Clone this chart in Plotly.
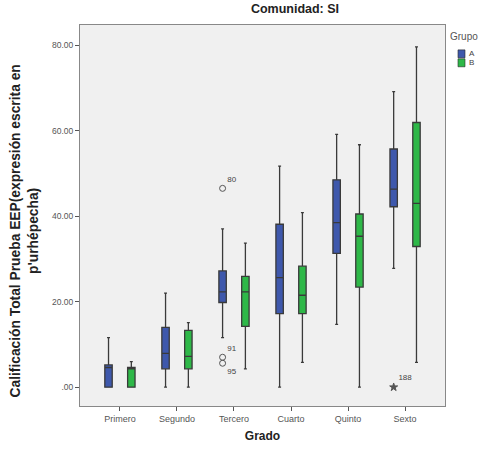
import plotly.graph_objects as go

grades = ["Primero", "Segundo", "Tercero", "Cuarto", "Quinto", "Sexto"]

# Group A statistics
a_low = [0.0, 0.0, 11.6, 0.0, 14.7, 27.8]
a_q1 = [0.0, 4.3, 19.8, 17.2, 31.3, 42.2]
a_med = [4.6, 7.9, 22.3, 25.6, 38.5, 46.3]
a_q3 = [5.2, 14.0, 27.2, 38.1, 48.5, 55.7]
a_high = [11.6, 22.0, 37.0, 51.7, 59.1, 69.1]

# Group B statistics
b_low = [0.0, 0.0, 4.3, 5.8, 0.0, 5.8]
b_q1 = [0.0, 4.3, 14.2, 17.2, 23.4, 32.9]
b_med = [4.3, 7.2, 22.3, 21.5, 35.3, 43.0]
b_q3 = [4.6, 13.3, 25.9, 28.3, 40.5, 61.9]
b_high = [6.0, 15.1, 33.7, 40.8, 56.7, 79.6]

# Outliers (grade index, value, case label, symbol)
out_grade = [2, 2, 2, 5]
out_value = [46.5, 7.0, 5.6, 0.0]
out_label = ["80", "91", "95", "188"]
out_symbol = ["circle-open", "circle-open", "circle-open", "star"]
out_textpos = ["top right", "top right", "bottom right", "top right"]

y_ticks = [0, 20, 40, 60, 80]
y_ticktext = [".00", "20.00", "40.00", "60.00", "80.00"]

groups = ["A", "B"]
col_a = "#3e58ac"
col_b = "#2eb848"
colors = [col_a, col_b]
off = 0.2

fig = go.Figure()
idx = list(range(len(grades)))
fig.add_trace(go.Box(
    x=[i - off for i in idx], q1=a_q1, median=a_med, q3=a_q3,
    lowerfence=a_low, upperfence=a_high, name="A",
    fillcolor=col_a, line=dict(color="#3a3a3a", width=1.3),
    width=0.13, whiskerwidth=0.4, boxpoints=False, showlegend=False,
))
fig.add_trace(go.Box(
    x=[i + off for i in idx], q1=b_q1, median=b_med, q3=b_q3,
    lowerfence=b_low, upperfence=b_high, name="B",
    fillcolor=col_b, line=dict(color="#3a3a3a", width=1.3),
    width=0.13, whiskerwidth=0.4, boxpoints=False, showlegend=False,
))
fig.add_trace(go.Scatter(
    x=[out_grade[k] - off for k in range(len(out_grade))], y=out_value,
    mode="markers+text", text=out_label, textposition=out_textpos,
    textfont=dict(size=8, color="#444444", family="Liberation Sans"),
    marker=dict(symbol=out_symbol, size=6, color="#555555",
                line=dict(color="#555555", width=1)),
    showlegend=False, hoverinfo="skip", cliponaxis=False,
))

# Manual legend
shapes = []
annotations = [dict(text="Grupo", x=1.008, y=0.971, xref="paper", yref="paper",
                    xanchor="left", yanchor="middle", showarrow=False,
                    font=dict(size=10, color="#555555"))]
for k, (g, c) in enumerate(zip(groups, colors)):
    y_top = 0.9347 - k * 0.0235
    shapes.append(dict(type="rect", xref="paper", yref="paper",
                       x0=1.0356, x1=1.0548, y0=y_top - 0.0209, y1=y_top,
                       fillcolor=c, line=dict(color="#2a2a2a", width=0.6)))
    annotations.append(dict(text=g, x=1.060, y=y_top - 0.0105, xref="paper",
                            yref="paper", xanchor="left", yanchor="middle",
                            showarrow=False, font=dict(size=8, color="#444444")))

annotations.append(dict(
    text="<b>Calificación Total Prueba EEP(expresión escrita en<br>p'urhépecha)</b>",
    x=0, xref="paper", xshift=-55, y=0.458, yref="paper",
    xanchor="center", yanchor="middle", textangle=-90, showarrow=False,
    font=dict(size=13.8, color="#222222")))

fig.update_layout(
    width=485, height=452,
    margin=dict(l=80, r=40, t=25, b=44),
    paper_bgcolor="white", plot_bgcolor="#f0f0f0",
    font=dict(family="Liberation Sans", size=9, color="#333333"),
    showlegend=False,
    boxmode="overlay",
    shapes=shapes, annotations=annotations,
    title=dict(text="<b>Comunidad: SI</b>", x=0.589, xanchor="center",
               xref="paper", y=0.99, yanchor="top",
               font=dict(size=12.5, color="#222222")),
    xaxis=dict(range=[-0.7, 5.7], tickmode="array", tickvals=idx,
               ticktext=grades, ticks="outside", ticklen=4,
               tickcolor="#555555", showgrid=False, zeroline=False,
               showline=True, linecolor="#888888", linewidth=1, mirror=True,
               title=dict(text="<b>Grado</b>", font=dict(size=12, color="#222222"),
                          standoff=8),
               tickfont=dict(size=9, color="#555555")),
    yaxis=dict(range=[-4.4, 84.7], tickmode="array", tickvals=y_ticks,
               ticktext=y_ticktext, ticks="outside", ticklen=4,
               tickcolor="#555555", showgrid=False, zeroline=False,
               showline=True, linecolor="#888888", linewidth=1, mirror=True,
               tickfont=dict(size=8.5, color="#555555")),
)

fig.write_html("out.html")
